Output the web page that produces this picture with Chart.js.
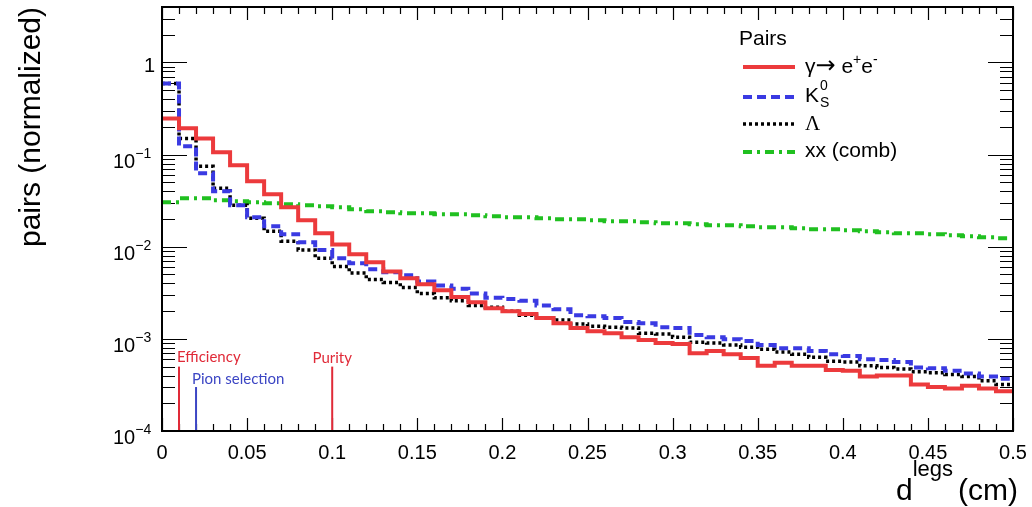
<!DOCTYPE html>
<html><head><meta charset="utf-8">
<script src="https://cdn.jsdelivr.net/npm/chart.js@4/dist/chart.umd.min.js"></script>
<style>html,body{margin:0;padding:0;background:#fff}#wrap{width:1032px;height:507px}</style>
</head><body><div id="wrap"><canvas id="c" width="1032" height="507"></canvas></div>
<script>
// ---- data ----
const binEdges = [0,0.01,0.02,0.03,0.04,0.05,0.06,0.07,0.08,0.09,0.10,0.11,0.12,0.13,0.14,0.15,0.16,0.17,0.18,0.19,0.20,0.21,0.22,0.23,0.24,0.25,0.26,0.27,0.28,0.29,0.30,0.31,0.32,0.33,0.34,0.35,0.36,0.37,0.38,0.39,0.40,0.41,0.42,0.43,0.44,0.45,0.46,0.47,0.48,0.49,0.50];
const gammaEE = [0.247,0.193,0.150,0.106,0.0764,0.0513,0.0371,0.0268,0.0194,0.0140,0.0106,0.0083,0.0068,0.0054,0.00455,0.00392,0.00338,0.00284,0.0025,0.00215,0.0020,0.00186,0.00168,0.00148,0.00131,0.00121,0.00115,0.00104,0.00097,0.0009,0.00088,0.0007,0.00074,0.00068,0.00062,0.00051,0.00055,0.00051,0.00051,0.00046,0.00045,0.00039,0.0004,0.0004,0.00032,0.0003,0.00029,0.00031,0.00029,0.00027];
const kShort = [0.592,0.123,0.0626,0.040,0.0282,0.0209,0.0167,0.0137,0.0112,0.0092,0.0075,0.0066,0.0057,0.0053,0.0049,0.0042,0.0038,0.0035,0.0031,0.0028,0.0027,0.0026,0.0023,0.0021,0.0018,0.00176,0.00168,0.00152,0.00148,0.00134,0.00131,0.0011,0.00104,0.00099,0.00095,0.00086,0.00079,0.00079,0.00074,0.00068,0.00065,0.0006,0.00059,0.00056,0.00049,0.00048,0.00045,0.00042,0.00039,0.00037];
const lambdaPairs = [0.592,0.150,0.0746,0.0431,0.0282,0.0204,0.0147,0.0115,0.0092,0.0075,0.0061,0.0052,0.0044,0.0041,0.0036,0.0031,0.0028,0.0026,0.0023,0.0022,0.0020,0.0018,0.0017,0.0016,0.00145,0.00137,0.00134,0.00131,0.00115,0.00113,0.00104,0.00092,0.0009,0.00086,0.00081,0.00077,0.00072,0.00068,0.00063,0.00057,0.00056,0.00051,0.00049,0.00047,0.00044,0.00043,0.00041,0.00039,0.00035,0.00032];
const combPairs = [0.0304,0.0336,0.0336,0.0319,0.0311,0.0304,0.0296,0.0289,0.0282,0.0275,0.0268,0.0255,0.0243,0.0237,0.0231,0.0231,0.0225,0.0225,0.022,0.0214,0.0209,0.0209,0.0204,0.0199,0.0199,0.0194,0.0189,0.0189,0.0184,0.018,0.018,0.0175,0.0171,0.0171,0.0167,0.0163,0.0163,0.0159,0.0155,0.0155,0.0151,0.0147,0.0144,0.014,0.014,0.0137,0.0133,0.013,0.0127,0.0124];
const xTickValues = [0,0.05,0.1,0.15,0.2,0.25,0.3,0.35,0.4,0.45,0.5];
const xTickLabels = ['0','0.05','0.1','0.15','0.2','0.25','0.3','0.35','0.4','0.45','0.5'];
const yDecades = [0,-1,-2,-3,-4];
const cutNames = ['Efficiency','Pion selection','Purity'];
const cutValues = [0.01,0.02,0.1];
const cutHeights = [5e-4,3e-4,5e-4];
const Y_MIN = 1e-4, Y_MAX = 4, X_MIN = 0, X_MAX = 0.5;

// ---- styles ----
const RED = '#ec3a3c', BLUE = '#3a3ae2', GREEN = '#20c020', BLACK = '#000';
const CUT_RED = '#e02a38', CUT_BLUE = '#3c46c4';
const cutColors = [CUT_RED, CUT_BLUE, CUT_RED];
const SANS = '"Liberation Sans", Arial, sans-serif';

function histPoints(vals){
  const pts = vals.map((v,i)=>({x:binEdges[i], y:v}));
  pts.push({x:binEdges[vals.length], y:vals[vals.length-1]});
  return pts;
}
const common = {stepped:'before', pointRadius:0, fill:false, borderCapStyle:'butt', borderJoinStyle:'miter'};
const datasets = [];
cutValues.forEach((cx,i)=>{
  datasets.push({label:cutNames[i], data:[{x:cx,y:Y_MIN},{x:cx,y:cutHeights[i]}], borderColor:cutColors[i], borderWidth:2, pointRadius:0, fill:false, borderCapStyle:'butt'});
});
datasets.push(
  Object.assign({label:'gamma', data:histPoints(gammaEE), borderColor:RED, borderWidth:4}, common),
  Object.assign({label:'K0S', data:histPoints(kShort), borderColor:BLUE, borderWidth:4, borderDash:[9,5]}, common),
  Object.assign({label:'Lambda', data:histPoints(lambdaPairs), borderColor:BLACK, borderWidth:3.5, borderDash:[3,3]}, common),
  Object.assign({label:'comb', data:histPoints(combPairs), borderColor:GREEN, borderWidth:4, borderDash:[9,5,3,5]}, common)
);

function rich(ctx, x, y, parts){
  for (const [t,f,dy] of parts){ ctx.font=f; ctx.fillText(t,x,y+(dy||0)); x+=ctx.measureText(t).width; }
  return x;
}

const decor = {
  id:'decor',
  beforeDatasetsDraw(chart){
    const ctx = chart.ctx, xs = chart.scales.x, ys = chart.scales.y, a = chart.chartArea;
    ctx.save();
    ctx.strokeStyle='#000'; ctx.setLineDash([]);
    ctx.lineWidth=1.2;
    ctx.beginPath();
    for (let k=-4;k<=0;k++){
      for (let m=1;m<=9;m++){
        const v=m*Math.pow(10,k);
        if (v<Y_MIN*0.999||v>Y_MAX) continue;
        const y=Math.round(ys.getPixelForValue(v))+0.5;
        const len = m===1?25:13;
        ctx.moveTo(a.left,y); ctx.lineTo(a.left+len,y);
        ctx.moveTo(a.right,y); ctx.lineTo(a.right-len,y);
      }
    }
    for (let i=0;i<=50;i++){
      const v=i*0.01;
      const x=Math.round(xs.getPixelForValue(v))+0.5;
      const len = (i%5===0)?13:7;
      ctx.moveTo(x,a.bottom); ctx.lineTo(x,a.bottom-len);
      ctx.moveTo(x,a.top); ctx.lineTo(x,a.top+len);
    }
    ctx.stroke();
    ctx.restore();
  },
  afterDraw(chart){
    const ctx = chart.ctx, xs = chart.scales.x, ys = chart.scales.y, a = chart.chartArea;
    ctx.save();
    // frame
    ctx.strokeStyle='#000'; ctx.lineWidth=2; ctx.setLineDash([]);
    ctx.strokeRect(a.left, a.top, a.right-a.left, a.bottom-a.top);
    // x labels
    ctx.fillStyle='#000'; ctx.font='20px '+SANS;
    ctx.textAlign='center'; ctx.textBaseline='alphabetic';
    xTickValues.forEach((v,i)=>{ ctx.fillText(xTickLabels[i], xs.getPixelForValue(v), 459); });
    // y labels
    yDecades.forEach(k=>{
      const y=ys.getPixelForValue(Math.pow(10,k));
      if (k===0){ ctx.textAlign='right'; ctx.font='20px '+SANS; ctx.fillText('1',155,y+10); }
      else {
        ctx.textAlign='left';
        rich(ctx,113,y+13,[['10','20px '+SANS,0],['\u2212'+(-k),'14px '+SANS,-10]]);
      }
    });
    // x axis title
    ctx.textAlign='left';
    ctx.font='30px '+SANS; const wcm=ctx.measureText('(cm)').width; const wd=ctx.measureText('d').width;
    ctx.font='22px '+SANS; const wlegs=ctx.measureText('legs').width;
    const xcm=1018-wcm, xlegs=xcm-5-wlegs, xd=xlegs-wd;
    ctx.font='30px '+SANS; ctx.fillText('(cm)',xcm,500); ctx.fillText('d',xd,500);
    ctx.font='22px '+SANS; ctx.fillText('legs',xlegs,476);
    // y axis title
    ctx.save();
    ctx.translate(40,127); ctx.rotate(-Math.PI/2);
    ctx.textAlign='center'; ctx.font='30px '+SANS;
    ctx.fillText('pairs (normalized)',0,0);
    ctx.restore();
    // cut annotations
    ctx.font='15px Lato, "Open Sans", sans-serif';
    ctx.textAlign='left';
    ctx.fillStyle=CUT_RED; ctx.fillText(cutNames[0], xs.getPixelForValue(cutValues[0])-2, ys.getPixelForValue(cutHeights[0])-5);
    ctx.fillStyle=CUT_BLUE; ctx.fillText(cutNames[1], xs.getPixelForValue(cutValues[1])-4, ys.getPixelForValue(cutHeights[1])-3);
    ctx.textAlign='center';
    ctx.fillStyle=CUT_RED; ctx.fillText(cutNames[2], xs.getPixelForValue(cutValues[2]), ys.getPixelForValue(cutHeights[2])-4);
    // legend
    ctx.textAlign='left'; ctx.fillStyle='#000';
    const LF='21px '+SANS, SF='14px '+SANS;
    ctx.font=LF; ctx.fillText('Pairs',739,45);
    const rows=[
      {c:RED,w:4,d:[],y:67,b:73,parts:[['\u03b3',LF,0],['\u2192','24px "DejaVu Sans", sans-serif',0],[' e',LF,0],['+',SF,-9],['e',LF,0],['-',SF,-9]]},
      {c:BLUE,w:4,d:[9,5],y:97,b:102,parts:[['K',LF,0]],extra:true},
      {c:BLACK,w:3.5,d:[3,3],y:124,b:130,parts:[['\u039b','21px "Liberation Serif", "Times New Roman", serif',0]]},
      {c:GREEN,w:4,d:[9,5,3,5],y:152,b:157,parts:[['xx (comb)',LF,0]]}
    ];
    rows.forEach(r=>{
      ctx.strokeStyle=r.c; ctx.lineWidth=r.w; ctx.setLineDash(r.d); ctx.lineCap='butt';
      ctx.beginPath(); ctx.moveTo(743,r.y); ctx.lineTo(795,r.y); ctx.stroke();
      ctx.setLineDash([]);
      const xe = rich(ctx,805,r.b,r.parts);
      if (r.extra){ ctx.font=SF; ctx.fillText('0',xe+1,r.b-12); ctx.fillText('S',xe+1,r.b+5); }
    });
    ctx.restore();
  }
};

async function build(){
  try {
    await Promise.all(['20px "Liberation Sans"','20px "Liberation Serif"','20px "DejaVu Sans"','15px Lato'].map(f=>document.fonts.load(f)));
  } catch(e) {}
  new Chart(document.getElementById('c'), {
    type:'line',
    data:{datasets},
    options:{
      responsive:false, animation:false, devicePixelRatio:1,
      layout:{padding:{left:162,top:7,right:19,bottom:76}},
      plugins:{legend:{display:false}, tooltip:{enabled:false}},
      scales:{
        x:{type:'linear', min:X_MIN, max:X_MAX, display:false},
        y:{type:'logarithmic', min:Y_MIN, max:Y_MAX, display:false}
      }
    },
    plugins:[decor]
  });
}
build();
</script></body></html>
